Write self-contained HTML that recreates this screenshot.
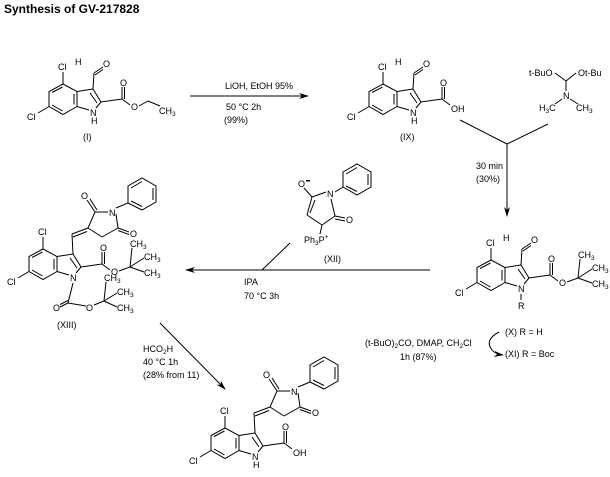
<!DOCTYPE html>
<html><head><meta charset="utf-8"><style>
body{margin:0;background:#fff}
svg{display:block}
text{font-family:"Liberation Sans",sans-serif;font-size:9px;fill:#000}
.s{font-size:6.5px}
</style></head><body>
<svg width="610" height="477" viewBox="0 0 610 477" xmlns="http://www.w3.org/2000/svg">
<defs>
<g id="core" stroke="#000" stroke-width="1" fill="none">
<polyline points="63,84 77,91.5 77,106.5 63,114.5 49,106.5 49,91.5 63,84"/>
<line x1="74" y1="94" x2="74" y2="104.5"/>
<line x1="62.5" y1="111" x2="52" y2="105"/>
<line x1="52" y1="92.5" x2="62.5" y2="87"/>
<line x1="63" y1="84" x2="63" y2="72"/>
<line x1="49" y1="106.5" x2="38" y2="113"/>
<line x1="77" y1="91.5" x2="93" y2="89"/>
<line x1="93" y1="89" x2="101" y2="102"/>
<line x1="90" y1="93" x2="97" y2="103"/>
<line x1="101" y1="102" x2="96" y2="108"/>
<line x1="77" y1="106.5" x2="89" y2="110"/>
</g>
<g id="cl">
<text x="58" y="70">Cl</text>
<text x="27" y="120">Cl</text>
<text x="90" y="116">N</text>
</g>
<g id="cho" stroke="#000" fill="none">
<line x1="93" y1="89" x2="94" y2="73"/>
<line x1="94" y1="73" x2="103" y2="67"/>
<line x1="95" y1="75" x2="103" y2="69.5"/>
</g>
<g id="cooc">
<g stroke="#000" fill="none">
<line x1="101" y1="102" x2="122" y2="99"/>
<line x1="122" y1="99" x2="122" y2="87"/>
<line x1="124.5" y1="99" x2="124.5" y2="87"/>
<line x1="122" y1="99" x2="130" y2="105"/>
</g>
<text x="120" y="86">O</text>
</g>
<g id="tbu">
<g stroke="#000" fill="none">
<line x1="139" y1="106" x2="150" y2="102"/>
<line x1="150" y1="102" x2="152" y2="83"/>
<line x1="150" y1="102" x2="164" y2="93"/>
<line x1="150" y1="102" x2="164" y2="107"/>
</g>
<text x="131" y="110">O</text>
<text x="150" y="82">CH<tspan class="s" dy="2">3</tspan></text>
<text x="164" y="95">CH<tspan class="s" dy="2">3</tspan></text>
<text x="164" y="111">CH<tspan class="s" dy="2">3</tspan></text>
</g>
<g id="succ">
<g stroke="#000" fill="none">
<line x1="93" y1="89" x2="92" y2="69"/>
<line x1="92" y1="69" x2="108" y2="63"/>
<line x1="93" y1="72" x2="107" y2="66.5"/>
<line x1="108" y1="63" x2="115" y2="47"/>
<line x1="115" y1="47" x2="128" y2="47"/>
<line x1="115" y1="47" x2="107" y2="35"/>
<line x1="117" y1="45" x2="110" y2="34"/>
<line x1="136" y1="49" x2="138" y2="63"/>
<line x1="138" y1="63" x2="122" y2="72"/>
<line x1="122" y1="72" x2="108" y2="63"/>
<line x1="138" y1="63" x2="149" y2="67"/>
<line x1="138" y1="65.5" x2="149" y2="69.5"/>
<line x1="136" y1="43" x2="148" y2="38"/>
<polyline points="148,38 148,21 162,13 176,21 176,37 162,45 148,38"/>
<line x1="151" y1="23" x2="162" y2="16.5"/>
<line x1="173" y1="23" x2="173" y2="35"/>
<line x1="162" y1="41.5" x2="151" y2="36"/>
</g>
<text x="101" y="34">O</text>
<text x="129" y="51">N</text>
<text x="150" y="72">O</text>
</g>
<marker id="ah" markerWidth="10" markerHeight="6" refX="9" refY="3" orient="auto" markerUnits="userSpaceOnUse">
<path d="M0,0 L10,3 L0,6 L3,3 Z" fill="#000"/>
</marker>
</defs>

<text x="4" y="13" style="font-size:12px;font-weight:bold">Synthesis of GV-217828</text>

<!-- (I) -->
<g>
<use href="#core"/><use href="#cl"/><use href="#cho"/><use href="#cooc"/>
<text x="91" y="124">H</text>
<text x="75" y="65">H</text><text x="103" y="67">O</text>
<g stroke="#000" fill="none"><line x1="139" y1="106" x2="148" y2="101"/><line x1="148" y1="101" x2="160" y2="106"/></g>
<text x="131" y="110">O</text>
<text x="159" y="114">CH<tspan class="s" dy="2">3</tspan></text>
<text x="83" y="140">(I)</text>
</g>

<!-- arrow 1 -->
<line x1="190" y1="96" x2="308" y2="96" stroke="#000" marker-end="url(#ah)"/>
<text x="225" y="89">LiOH, EtOH 95%</text>
<text x="226" y="110">50 °C 2h</text>
<text x="224" y="123">(99%)</text>

<!-- (IX) -->
<g transform="translate(320,0)">
<use href="#core"/><use href="#cl"/><use href="#cho"/><use href="#cooc"/>
<text x="91" y="124">H</text>
<text x="75" y="65">H</text><text x="103" y="67">O</text>
<text x="131" y="112">OH</text>
<text x="80" y="140">(IX)</text>
</g>

<!-- acetal reagent -->
<text x="529" y="76">t-BuO</text>
<text x="578" y="76">Ot-Bu</text>
<g stroke="#000" fill="none">
<line x1="555" y1="73" x2="566" y2="81"/><line x1="566" y1="81" x2="576" y2="73"/>
<line x1="566" y1="81" x2="566" y2="91"/>
<line x1="562" y1="99" x2="555" y2="104"/><line x1="570" y1="99" x2="578" y2="104"/>
</g>
<text x="563" y="99">N</text>
<text x="539" y="111">H<tspan class="s" dy="2">3</tspan><tspan dy="-2">C</tspan></text>
<text x="576" y="111">CH<tspan class="s" dy="2">3</tspan></text>

<!-- bracket arrow -->
<g stroke="#000" fill="none">
<line x1="460" y1="120" x2="507" y2="144"/>
<line x1="548" y1="124" x2="507" y2="144"/>
<line x1="507" y1="144" x2="507" y2="216" marker-end="url(#ah)"/>
</g>
<text x="476" y="169">30 min</text>
<text x="476" y="182">(30%)</text>

<!-- (X)/(XI) -->
<g transform="translate(428,176)">
<use href="#core"/><use href="#cl"/><use href="#cho"/><use href="#cooc"/><use href="#tbu"/>
<text x="75" y="65">H</text><text x="103" y="67">O</text>
<line x1="93" y1="118" x2="93" y2="124" stroke="#000"/>
<text x="90" y="133">R</text>
</g>

<!-- (XII) -->
<text x="298" y="187">O</text>
<rect x="306" y="180" width="4" height="1.5" fill="#000"/>
<g stroke="#000" fill="none">
<line x1="304" y1="188" x2="312" y2="197"/>
<line x1="312" y1="197" x2="326" y2="192"/>
<line x1="312" y1="197" x2="307" y2="215"/>
<line x1="315" y1="200" x2="310" y2="213"/>
<line x1="307" y1="215" x2="322" y2="225"/>
<line x1="322" y1="225" x2="335" y2="216"/>
<line x1="335" y1="216" x2="331" y2="199"/>
<line x1="335" y1="216" x2="345" y2="218"/>
<line x1="335" y1="219" x2="345" y2="221"/>
<line x1="322" y1="225" x2="320" y2="234"/>
<line x1="335" y1="192" x2="343" y2="187"/>
<polyline points="343,187 343,172 357,164 371,172 371,187 357,195 343,187"/>
<line x1="346" y1="174" x2="357" y2="167.5"/>
<line x1="368" y1="174" x2="368" y2="185"/>
<line x1="357" y1="191.5" x2="346" y2="186"/>
</g>
<text x="327" y="197">N</text>
<text x="346" y="223">O</text>
<text x="304" y="243">Ph<tspan class="s" dy="2">3</tspan><tspan dy="-2">P</tspan><tspan class="s" dy="-4">+</tspan></text>
<text x="324" y="262">(XII)</text>

<!-- left arrow -->
<line x1="430" y1="270" x2="186" y2="270" stroke="#000" marker-end="url(#ah)"/>
<line x1="262" y1="270" x2="290" y2="243" stroke="#000"/>
<text x="244" y="285">IPA</text>
<text x="244" y="299">70 °C 3h</text>

<!-- (XIII) -->
<g transform="translate(-20,165)">
<use href="#core"/><use href="#cl"/><use href="#succ"/><use href="#cooc"/><use href="#tbu"/>
<g stroke="#000" fill="none">
<line x1="93" y1="118" x2="88" y2="138"/>
<line x1="88" y1="138" x2="80" y2="142"/>
<line x1="88" y1="135.5" x2="80" y2="139.5"/>
<line x1="88" y1="138" x2="106" y2="141"/>
<line x1="114" y1="140" x2="124" y2="136"/>
<line x1="124" y1="136" x2="126" y2="117"/>
<line x1="124" y1="136" x2="137" y2="128"/>
<line x1="124" y1="136" x2="137" y2="142"/>
</g>
<text x="73" y="146">O</text>
<text x="106" y="146">O</text>
<text x="124" y="116">CH<tspan class="s" dy="2">3</tspan></text>
<text x="137" y="130">CH<tspan class="s" dy="2">3</tspan></text>
<text x="137" y="146">CH<tspan class="s" dy="2">3</tspan></text>
<text x="77" y="163">(XIII)</text>
</g>

<!-- diagonal arrow -->
<line x1="160" y1="323" x2="225" y2="389" stroke="#000" marker-end="url(#ah)"/>
<text x="143" y="352">HCO<tspan class="s" dy="2">2</tspan><tspan dy="-2">H</tspan></text>
<text x="143" y="365">40 °C 1h</text>
<text x="143" y="378">(28% from 11)</text>

<!-- final -->
<g transform="translate(162,344)">
<use href="#core"/><use href="#cl"/><use href="#succ"/><use href="#cooc"/>
<text x="91" y="124">H</text>
<text x="131" y="112">OH</text>
</g>

<!-- Boc protection text -->
<text x="365" y="346">(t-BuO)<tspan class="s" dy="2">2</tspan><tspan dy="-2">CO, DMAP, CH</tspan><tspan class="s" dy="2">2</tspan><tspan dy="-2">Cl</tspan></text>
<text x="400" y="360">1h (87%)</text>
<path d="M499,332 Q484,340 492,350 Q495,354 503,355" stroke="#000" fill="none" marker-end="url(#ah)"/>
<text x="505" y="335">(X) R = H</text>
<text x="505" y="357">(XI) R = Boc</text>
</svg>
</body></html>
